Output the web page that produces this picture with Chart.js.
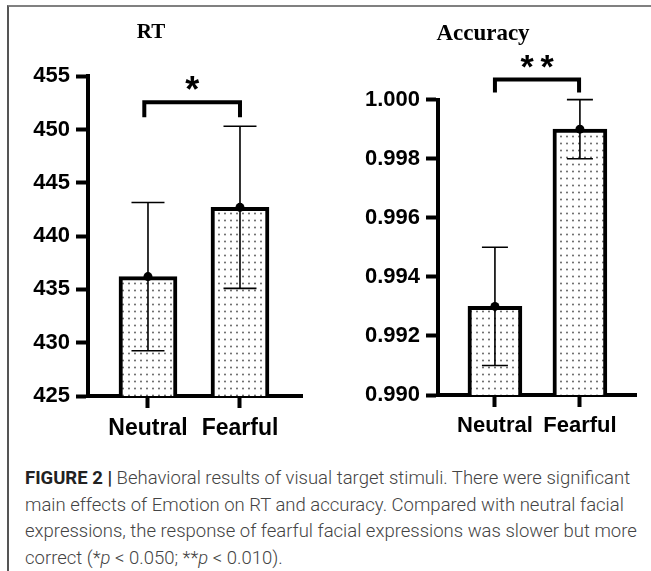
<!DOCTYPE html>
<html>
<head>
<meta charset="utf-8">
<script src="https://cdn.jsdelivr.net/npm/chart.js@4.4.0/dist/chart.umd.min.js"></script>
<style>
    body { margin: 0; background: #fff; width: 651px; height: 571px; overflow: hidden; position: relative; }
    .marco { position: absolute; left: 7px; top: 5px; right: 0; bottom: 0; border-left: 2px solid #555; border-top: 2px solid #808080; }
    canvas { position: absolute; top: 0; }
    #rtChart { left: 0; }
    #accChart { left: 330px; }
    .caption {
        position: absolute; left: 25px; top: 465px;
        font-family: Roboto, "Liberation Sans", sans-serif; font-weight: 300;
        font-size: 18.5px; line-height: 26.7px; color: #444; white-space: nowrap;
    }
    .caption b { font-weight: 700; color: #222; }
</style>
</head>
<body>
<div class="marco"></div>
<canvas id="rtChart" width="330" height="450"></canvas>
<canvas id="accChart" width="321" height="450"></canvas>
<div class="caption">
    <b>FIGURE 2 |</b> Behavioral results of visual target stimuli. There were significant<br>
    main effects of Emotion on RT and accuracy. Compared with neutral facial<br>
    expressions, the response of fearful facial expressions was slower but more<br>
    correct (*<i>p</i> &lt; 0.050; **<i>p</i> &lt; 0.010).
</div>
<script>
// Data
const categorias = ['Neutral', 'Fearful'];

const rtMedias = [436.2, 442.7];
const rtErrores = [6.95, 7.6];
const rtTicks = [425, 430, 435, 440, 445, 450, 455];

const accMedias = [0.993, 0.999];
const accErrores = [0.002, 0.001];
const accTicks = [0.990, 0.992, 0.994, 0.996, 0.998, 1.000];

const rtSignificancia = '*';
const accSignificancia = '**';

/**
 * Dotted fill used inside the bars
 */
function crearPatron() {
    const c = document.createElement('canvas');
    c.width = 6;
    c.height = 7;
    const p = c.getContext('2d');
    p.fillStyle = '#fff';
    p.fillRect(0, 0, 6, 7);
    p.fillStyle = '#555';
    p.beginPath();
    p.arc(3, 3.5, 0.9, 0, Math.PI * 2);
    p.fill();
    return p.createPattern(c, 'repeat');
}

// Error bars (mean +/- error) drawn through the scales
const errorBarsPlugin = {
    id: 'errorBars',
    afterDatasetsDraw(chart, args, opts) {
        const { ctx, scales: { x, y } } = chart;
        ctx.save();
        ctx.strokeStyle = '#000';
        ctx.lineWidth = opts.lineWidth;
        opts.medias.forEach((m, i) => {
            const px = x.getPixelForValue(i);
            const arriba = y.getPixelForValue(m + opts.errores[i]);
            const abajo = y.getPixelForValue(m - opts.errores[i]);
            const w = opts.capWidth / 2;
            ctx.beginPath();
            ctx.moveTo(px, arriba); ctx.lineTo(px, abajo);
            ctx.moveTo(px - w, arriba); ctx.lineTo(px + w, arriba);
            ctx.moveTo(px - w, abajo); ctx.lineTo(px + w, abajo);
            ctx.stroke();
        });
        ctx.restore();
    }
};

// Significance bracket with stars
const corchetePlugin = {
    id: 'corchete',
    afterDraw(chart, args, opts) {
        const { ctx, scales: { x, y } } = chart;
        const x1 = x.getPixelForValue(opts.desde);
        const x2 = x.getPixelForValue(opts.hasta);
        const yTop = y.getPixelForValue(opts.arriba);
        const yPata = y.getPixelForValue(opts.pata);
        ctx.save();
        ctx.strokeStyle = '#000';
        ctx.lineWidth = 4;
        ctx.lineJoin = 'miter';
        ctx.lineCap = 'butt';
        ctx.beginPath();
        ctx.moveTo(x1, yPata);
        ctx.lineTo(x1, yTop);
        ctx.lineTo(x2, yTop);
        ctx.lineTo(x2, yPata);
        ctx.stroke();

        ctx.fillStyle = '#000';
        ctx.font = 'bold ' + opts.starSize + 'px "Liberation Sans", Arial, sans-serif';
        ctx.textAlign = 'center';
        ctx.textBaseline = 'alphabetic';
        const n = opts.texto.length;
        const cx = (x1 + x2) / 2;
        for (let k = 0; k < n; k++) {
            ctx.fillText(opts.texto[k], cx + (k - (n - 1) / 2) * opts.starGap, yTop + opts.starOffset);
        }
        ctx.restore();
    }
};

function crearGrafico(canvasId, cfg) {
    const canvas = document.getElementById(canvasId);
    if (!canvas) return null;
    const ctx = canvas.getContext('2d');
    const puntos = cfg.medias.map((m, i) => ({ x: i, y: m }));

    return new Chart(ctx, {
        data: {
            datasets: [
                {
                    type: 'scatter',
                    data: puntos,
                    pointRadius: 4.5,
                    pointBackgroundColor: '#000',
                    pointBorderWidth: 0,
                    order: 0
                },
                {
                    type: 'bar',
                    data: puntos,
                    backgroundColor: crearPatron(),
                    borderColor: '#000',
                    borderWidth: 4,
                    barThickness: cfg.barThickness,
                    order: 1
                }
            ]
        },
        options: {
            responsive: false,
            animation: false,
            layout: { padding: { left: 0, right: cfg.padRight, top: 0, bottom: 0 } },
            plugins: {
                legend: { display: false },
                tooltip: { enabled: false },
                title: {
                    display: true,
                    text: cfg.titulo,
                    color: '#000',
                    font: { family: '"Liberation Serif", "Times New Roman", serif', size: cfg.tituloSize, weight: 'bold' },
                    padding: cfg.tituloPadding
                },
                errorBars: { medias: cfg.medias, errores: cfg.errores, capWidth: cfg.capWidth, lineWidth: 1.6 },
                corchete: cfg.corchete
            },
            scales: {
                x: {
                    type: 'linear',
                    offset: false,
                    bounds: 'data',
                    min: cfg.xMin,
                    max: cfg.xMax,
                    afterBuildTicks: (s) => { s.ticks = categorias.map((c, i) => ({ value: i })); },
                    afterFit: (s) => { s.height = cfg.xAxisHeight; },
                    ticks: {
                        autoSkip: false,
                        maxRotation: 0,
                        padding: cfg.xPadding,
                        color: '#000',
                        font: { family: '"Liberation Sans", Arial, sans-serif', size: cfg.xFont, weight: 'bold' },
                        callback: (v, i) => categorias[i]
                    },
                    grid: { offset: false, drawOnChartArea: false, tickLength: 12, tickWidth: 4, color: '#000' },
                    border: { width: 4, color: '#000' }
                },
                y: {
                    type: 'linear',
                    min: cfg.ticks[0],
                    max: cfg.ticks[cfg.ticks.length - 1],
                    afterBuildTicks: (s) => { s.ticks = cfg.ticks.map(v => ({ value: v })); },
                    afterFit: (s) => { s.width = cfg.yAxisWidth; },
                    ticks: {
                        padding: 6,
                        color: '#000',
                        font: { family: '"Liberation Sans", Arial, sans-serif', size: 22, weight: 'bold' },
                        callback: cfg.formato
                    },
                    grid: { drawOnChartArea: false, tickLength: 12, tickWidth: 4, color: '#000' },
                    border: { width: 4, color: '#000' }
                }
            }
        },
        plugins: [errorBarsPlugin, corchetePlugin]
    });
}

crearGrafico('rtChart', {
    titulo: 'RT',
    tituloSize: 21,
    tituloPadding: { top: 20, bottom: 31 },
    medias: rtMedias,
    errores: rtErrores,
    ticks: rtTicks,
    formato: (v) => String(v),
    xMin: -0.652,
    xMax: 1.674,
    barThickness: 58,
    capWidth: 33,
    padRight: 28,
    yAxisWidth: 88,
    xAxisHeight: 54,
    xFont: 23,
    xPadding: 7,
    corchete: { desde: -0.04, hasta: 1.0, arriba: 452.56, pata: 451.16, texto: rtSignificancia, starSize: 36, starGap: 20, starOffset: 0 }
});

crearGrafico('accChart', {
    titulo: 'Accuracy',
    tituloSize: 23,
    tituloPadding: { top: 20, bottom: 52 },
    medias: accMedias,
    errores: accErrores,
    ticks: accTicks,
    formato: (v) => v.toFixed(3),
    xMin: -0.67,
    xMax: 1.66,
    barThickness: 54,
    capWidth: 26,
    padRight: 15,
    yAxisWidth: 108,
    xAxisHeight: 55,
    xFont: 22,
    xPadding: 6,
    corchete: { desde: 0, hasta: 0.99, arriba: 1.00068, pata: 1.00024, texto: accSignificancia, starSize: 34, starGap: 20, starOffset: -2 }
});
</script>
</body>
</html>
